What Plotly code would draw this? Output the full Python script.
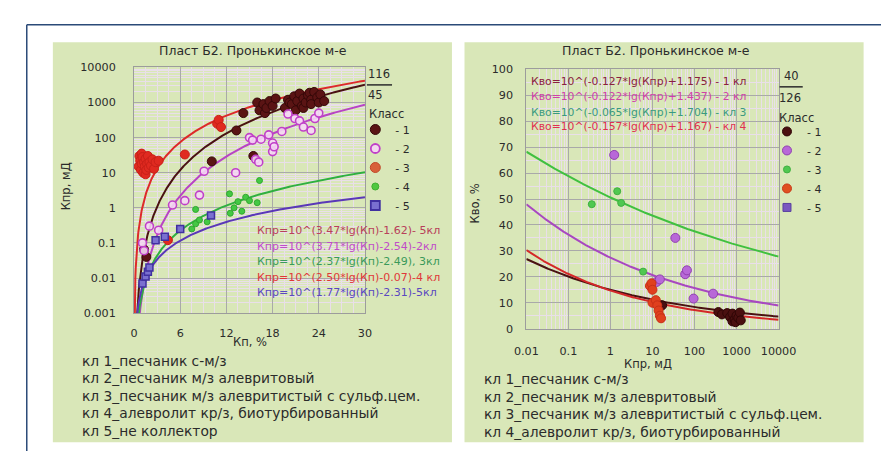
import numpy as np
import plotly.graph_objects as go

W, H = 891, 451
def xp(px): return px / W
def yp(py): return 1 - py / H

# ---------------- data: left chart (Кп, % vs Кпр, мД) ----------------
kp_1 = [1.3, 1.6, 10.1, 13.3, 14.2, 15.5, 16.0, 16.3, 16.8, 17.0, 17.2, 17.6, 18.0, 18.4,
        19.6, 20.0, 20.2, 20.5, 20.8, 21.0, 21.2, 21.5, 21.8, 22.0, 22.0, 22.3, 22.6, 22.8,
        23.0, 23.0, 23.4, 23.8, 24.0, 24.2, 24.7]
kpr_1 = [0.065, 0.04, 21, 160, 500, 30, 1000, 600, 900, 500, 700, 1100, 800, 1300,
         700, 1200, 1000, 900, 1500, 600, 1100, 1800, 800, 1300, 700, 1000, 1600, 1900,
         1200, 900, 2000, 1400, 1000, 1700, 1100]
kp_2 = [1.1, 1.3, 2.0, 3.2, 5.0, 6.6, 8.5, 9.1, 13.2, 15.0, 15.4, 15.8, 16.2, 16.5,
        17.5, 18.0, 18.0, 18.2, 19.2, 20.0, 20.9, 21.5, 22.0, 23.0, 23.5, 24.0]
kpr_2 = [0.1, 0.06, 0.3, 0.23, 1.2, 1.6, 2.3, 11, 10, 100, 85, 24, 20, 90,
         120, 40, 70, 55, 150, 470, 350, 300, 200, 160, 350, 500]
kp_3 = [0.6, 0.7, 0.8, 0.9, 1.0, 1.0, 1.1, 1.2, 1.3, 1.4, 1.5, 1.5, 1.6, 1.7, 1.8,
        1.9, 2.0, 2.2, 2.4, 2.6, 2.8, 3.2, 4.4, 6.6, 10.8, 11.0, 11.3]
kpr_3 = [15, 30, 22, 12, 18, 35, 28, 10, 20, 15, 25, 9, 12, 18, 30,
         14, 20, 16, 24, 13, 20, 22, 0.12, 33, 250, 320, 200]
kp_4 = [7.5, 8.0, 8.0, 8.5, 9.5, 10.0, 12.4, 12.5, 13.0, 13.5, 14.0, 14.5, 15.0, 16.0, 16.3]
kpr_4 = [0.25, 0.35, 0.9, 0.45, 0.4, 0.6, 2.5, 0.7, 1.0, 1.5, 0.8, 2.0, 1.6, 1.4, 6]
kp_5 = [1.1, 1.5, 1.8, 2.0, 2.8, 4.0, 6.0, 10.0]
kpr_5 = [0.007, 0.011, 0.015, 0.02, 0.12, 0.15, 0.25, 0.6]

# fitted equations Кпр = 10^(a*lg(Кп)+b)
fit_left_a = [3.47, 3.71, 2.37, 2.50, 1.77]
fit_left_b = [-1.62, -2.54, -2.49, -0.07, -2.31]
fit_left_text = ["Кпр=10^(3.47*lg(Кп)-1.62)- 5кл",
                 "Кпр=10^(3.71*lg(Кп)-2.54)-2кл",
                 "Кпр=10^(2.37*lg(Кп)-2.49), 3кл",
                 "Кпр=10^(2.50*lg(Кп)-0.07)-4 кл",
                 "Кпр=10^(1.77*lg(Кп)-2.31)-5кл"]

# ---------------- data: right chart (Кпр, мД vs Кво, %) ----------------
kpr_r1 = [17, 370, 450, 600, 700, 800, 800, 900, 950, 1000, 1100, 1200, 1260]
kvo_r1 = [9, 6.4, 5.5, 6.0, 4.5, 5.8, 2.8, 3.5, 2.5, 5.0, 4.2, 6.2, 3.2]
kpr_r2 = [1.23, 12.5, 15, 35, 60, 66, 95, 277]
kvo_r2 = [67, 18, 19, 35, 21, 22.5, 11.6, 13.5]
kpr_r3 = [0.36, 1.45, 1.8, 6]
kvo_r3 = [48, 53, 48.5, 22]
kpr_r4 = [8.7, 9.5, 10, 10, 12, 13, 14, 15, 16]
kvo_r4 = [16.5, 17.5, 15, 10, 11, 9, 7, 5, 4]
kpr_r5 = []
kvo_r5 = []

# Кво = 10^(a*lg(Кпр)+b)
fit_right_a = [-0.127, -0.122, -0.065, -0.157]
fit_right_b = [1.175, 1.437, 1.704, 1.167]
fit_right_text = ["Кво=10^(-0.127*lg(Кпр)+1.175) - 1 кл",
                  "Кво=10^(-0.122*lg(Кпр)+1.437) - 2 кл",
                  "Кво=10^(-0.065*lg(Кпр)+1.704) - кл 3",
                  "Кво=10^(-0.157*lg(Кпр)+1.167) - кл 4"]

class_names = ["- 1", "- 2", "- 3", "- 4", "- 5"]
legend_title = "Класс"
legend_left_count = ["116", "45"]
legend_right_count = ["40", "126"]
notes_left = ["кл 1_песчаник с-м/з", "кл 2_песчаник м/з алевритовый",
              "кл 3_песчаник м/з алевритистый с сульф.цем.",
              "кл 4_алевролит кр/з, биотурбированный", "кл 5_не коллектор"]
notes_right = notes_left[:4]
title_text = "Пласт Б2. Пронькинское м-е"

# ---------------- styles ----------------
FONT = "DejaVu Sans, Verdana, sans-serif"
TXT = "#2b2b2b"
PANEL = "#d9e7b8"
curve_left_colors = ["#4a1212", "#b844c4", "#2fb040", "#dd2a2a", "#5a38b8"]
eq_left_colors = ["#b8405a", "#c04cc8", "#3a9a5a", "#e03838", "#5a48c0"]
curve_right_colors = ["#4a1212", "#a848c0", "#40c040", "#d42828"]
eq_right_colors = ["#8a2040", "#d040a8", "#3a9a80", "#e03050"]

fig = go.Figure()

# left fitted curves
xl = np.linspace(0.02, 30, 600)
for a, b, c in zip(fit_left_a, fit_left_b, curve_left_colors):
    fig.add_trace(go.Scatter(x=xl, y=10 ** (a * np.log10(xl) + b), mode="lines",
                             line=dict(color=c, width=2), showlegend=False,
                             hoverinfo="skip", xaxis="x", yaxis="y"))

left_series = [
    (kp_1, kpr_1, dict(color="#5a1414", size=9, line=dict(color="#350808", width=1))),
    (kp_2, kpr_2, dict(color="rgba(245,215,245,0.9)", size=8, line=dict(color="#c040c8", width=1.6))),
    (kp_3, kpr_3, dict(color="#e02a20", size=9, line=dict(color="#c82018", width=1))),
    (kp_4, kpr_4, dict(color="#44c844", size=6, line=dict(color="#30a830", width=1))),
    (kp_5, kpr_5, dict(color="#7a70d0", size=7, symbol="square", line=dict(color="#4030a0", width=1.5))),
]
leg_left_markers = [
    dict(color="#5a1414", size=10, line=dict(color="#350808", width=1)),
    dict(color="rgba(245,215,245,0.9)", size=9, line=dict(color="#c040c8", width=1.8)),
    dict(color="#d8603a", size=10, line=dict(color="#c04828", width=1)),
    dict(color="#50c840", size=7, line=dict(color="#40b030", width=1)),
    dict(color="#7a70d0", size=9, symbol="square", line=dict(color="#4030a0", width=1.8)),
]
for (x, y, m), name, lm in zip(left_series, class_names, leg_left_markers):
    fig.add_trace(go.Scatter(x=x, y=y, mode="markers", marker=m, name=name,
                             xaxis="x", yaxis="y", legend="legend", showlegend=False))
    fig.add_trace(go.Scatter(x=[None], y=[None], mode="markers", marker=lm, name=name,
                             xaxis="x", yaxis="y", legend="legend"))

# right fitted curves
xr = np.logspace(-2, 4, 300)
for a, b, c in zip(fit_right_a, fit_right_b, curve_right_colors):
    fig.add_trace(go.Scatter(x=xr, y=10 ** (a * np.log10(xr) + b), mode="lines",
                             line=dict(color=c, width=2), showlegend=False,
                             hoverinfo="skip", xaxis="x2", yaxis="y2"))

right_series = [
    (kpr_r1, kvo_r1, dict(color="#4a1010", size=9, line=dict(color="#300606", width=1))),
    (kpr_r2, kvo_r2, dict(color="#b868d8", size=9, line=dict(color="#9040b0", width=1))),
    (kpr_r3, kvo_r3, dict(color="#50c850", size=7, line=dict(color="#40b040", width=1))),
    (kpr_r4, kvo_r4, dict(color="#e0401e", size=9, line=dict(color="#c83018", width=1))),
    (kpr_r5, kvo_r5, dict(color="#7a58c0", size=8, symbol="square", line=dict(color="#5a40a0", width=1))),
]
leg_right_markers = [
    dict(color="#4a1010", size=9, line=dict(color="#300606", width=1)),
    dict(color="#b868d8", size=9, line=dict(color="#9040b0", width=1)),
    dict(color="#50c850", size=7, line=dict(color="#40b040", width=1)),
    dict(color="#e05020", size=9, line=dict(color="#c83818", width=1)),
    dict(color="#7a58c0", size=8, symbol="square", line=dict(color="#5a40a0", width=1)),
]
for (x, y, m), name, lm in zip(right_series, class_names, leg_right_markers):
    fig.add_trace(go.Scatter(x=x, y=y, mode="markers", marker=m, name=name,
                             xaxis="x2", yaxis="y2", legend="legend2", showlegend=False))
    fig.add_trace(go.Scatter(x=[None], y=[None], mode="markers", marker=lm, name=name,
                             xaxis="x2", yaxis="y2", legend="legend2"))

GRID = "#a9a9a9"
MINOR = "#e9dfe9"
tickf = dict(family=FONT, size=11.2, color=TXT)
common = dict(showgrid=True, gridcolor=GRID, gridwidth=1, showline=True,
              linecolor="#9c9c9c", linewidth=1, mirror=True, zeroline=False,
              tickfont=tickf, ticks="")

dec_l = [0.001, 0.01, 0.1, 1, 10, 100, 1000, 10000]
dec_r = [0.01, 0.1, 1, 10, 100, 1000, 10000]
legf = dict(family=FONT, size=11, color=TXT)
fig.update_layout(
    width=W, height=H, margin=dict(l=0, r=0, t=0, b=0),
    paper_bgcolor="white", plot_bgcolor="white",
    font=dict(family=FONT, color=TXT),
    xaxis=dict(domain=[xp(118), xp(357)], range=[0, 30], dtick=6, tick0=0,
               minor=dict(dtick=1.5, showgrid=True, gridcolor=MINOR),
               ticklabelstandoff=9, anchor="y", **common),
    yaxis=dict(domain=[yp(308), yp(55)], type="log", range=[-3, 4],
               tickvals=dec_l, ticktext=["0.001", "0.01", "0.1", "1", "10", "100", "1000", "10000"],
               minor=dict(dtick="D1", showgrid=True, gridcolor=MINOR),
               ticklabelstandoff=15, anchor="x", **common),
    xaxis2=dict(domain=[xp(524), xp(785)], type="log", range=[-2, 4],
                tickvals=dec_r, ticktext=["0.01", "0.1", "1", "10", "100", "1000", "10000"],
                minor=dict(dtick="D1", showgrid=True, gridcolor=MINOR),
                ticklabelstandoff=12, anchor="y2", **common),
    yaxis2=dict(domain=[yp(324), yp(57)], range=[0, 100], dtick=10,
                minor=dict(dtick=5, showgrid=True, gridcolor=MINOR),
                ticklabelstandoff=10, anchor="x2", **common),
    legend=dict(x=xp(347), y=yp(104), xanchor="left", yanchor="top",
                bgcolor="rgba(0,0,0,0)", font=legf, itemwidth=30, tracegroupgap=0),
    legend2=dict(x=xp(773), y=yp(106), xanchor="left", yanchor="top",
                 bgcolor="rgba(0,0,0,0)", font=legf, itemwidth=30, tracegroupgap=0),
)

shapes = [
    dict(type="rect", xref="paper", yref="paper", x0=xp(34), x1=xp(447), y0=yp(441), y1=yp(29),
         fillcolor=PANEL, line=dict(width=0), layer="below"),
    dict(type="rect", xref="paper", yref="paper", x0=xp(460), x1=xp(873), y0=yp(441), y1=yp(29),
         fillcolor=PANEL, line=dict(width=0), layer="below"),
    dict(type="line", xref="paper", yref="paper", x0=xp(7), x1=xp(891), y0=yp(11), y1=yp(11),
         line=dict(color="#2b4a78", width=1.5)),
    dict(type="line", xref="paper", yref="paper", x0=xp(7), x1=xp(7), y0=yp(11), y1=yp(451),
         line=dict(color="#2b4a78", width=1.5)),
    dict(type="line", xref="paper", yref="paper", x0=xp(359), x1=xp(385), y0=yp(73), y1=yp(73),
         line=dict(color=TXT, width=1.5)),
    dict(type="line", xref="paper", yref="paper", x0=xp(786), x1=xp(810), y0=yp(75), y1=yp(75),
         line=dict(color=TXT, width=1.5)),
]
fig.update_layout(shapes=shapes)

ann = []
def text(px, py, s, size=11, color=TXT, xanchor="center", angle=0):
    ann.append(dict(x=xp(px), y=yp(py), xref="paper", yref="paper", text=s, showarrow=False,
                    xanchor=xanchor, yanchor="middle", textangle=angle,
                    font=dict(family=FONT, size=size, color=color)))

text(241, 38, title_text, 12.5)
text(658, 38, title_text, 12.5)
text(47, 177, "Кпр, мД", 11.5, angle=-90)
text(471, 195, "Кво, %", 11.5, angle=-90)
text(238, 338, "Кп, %", 11.5)
text(650, 360, "Кпр, мД", 11.5)
text(372, 62, legend_left_count[0], 11.5)
text(368, 83, legend_left_count[1], 11.5)
text(798, 64, legend_right_count[0], 11.5)
text(797, 86, legend_right_count[1], 11.5)
text(379, 103, legend_title, 11.5)
text(804, 107, legend_title, 11.5)
for i, (s, c) in enumerate(zip(fit_left_text, eq_left_colors)):
    text(243, 223 + i * 16, s, 11, c, xanchor="left")
right_eq_y = [70, 85, 101, 116]
for yy, s, c in zip(right_eq_y, fit_right_text, eq_right_colors):
    text(527, yy, s, 10.8, c, xanchor="left")
for i, s in enumerate(notes_left):
    text(62, 357 + i * 18, s, 13.8, xanchor="left")
for i, s in enumerate(notes_right):
    text(478, 376 + i * 18, s, 13.8, xanchor="left")
fig.update_layout(annotations=ann)

fig.write_html("out.html")
